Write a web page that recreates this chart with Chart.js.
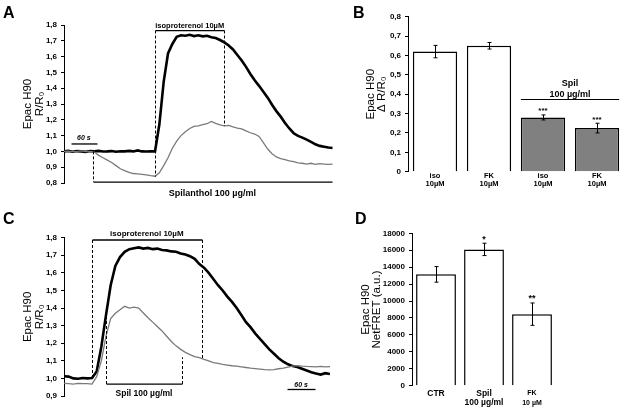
<!DOCTYPE html>
<html><head><meta charset="utf-8">
<script src="https://cdn.jsdelivr.net/npm/chart.js@4"></script>
<style>
html,body{margin:0;padding:0;background:#fff;width:625px;height:413px;overflow:hidden;position:relative}
canvas{position:absolute}
.lbl{position:absolute;font:bold 16px "Liberation Sans",Arial,sans-serif;line-height:16px;color:#000;z-index:5}
</style></head><body>
<canvas id="cA" style="left:0;top:0;width:340px;height:205px" width="340" height="205"></canvas>
<canvas id="cB" style="left:340px;top:0;width:285px;height:205px" width="285" height="205"></canvas>
<canvas id="cC" style="left:0;top:205px;width:340px;height:208px" width="340" height="208"></canvas>
<canvas id="cD" style="left:340px;top:205px;width:285px;height:208px" width="285" height="208"></canvas>
<div class="lbl" style="left:3px;top:5px">A</div>
<div class="lbl" style="left:353px;top:5px">B</div>
<div class="lbl" style="left:3px;top:211px">C</div>
<div class="lbl" style="left:355px;top:211px">D</div>
<script>
// ---------- Panel A data (time in s) ----------
const timeA = [0,10,20,30,40,50,60,70,80,90,100,110,120,130,140,150,160,170,180,190,200,210,220,230,240,250,260,270,280,290,300,310,320,330,340,350,360,370,380,390,400,410,420,430,440,450,460,470,480,490,500,510,520,530,540,550,560,570,580,590,600,610,620];
const isoOnlyA = [1.000,1.003,0.998,1.002,1.000,0.997,1.002,1.000,1.003,0.999,1.000,1.002,0.998,1.001,1.000,1.003,1.000,1.006,1.000,0.999,1.000,1.000,1.170,1.440,1.620,1.680,1.725,1.735,1.732,1.738,1.730,1.735,1.728,1.732,1.722,1.718,1.705,1.690,1.670,1.645,1.610,1.575,1.535,1.490,1.450,1.415,1.378,1.340,1.295,1.255,1.220,1.180,1.145,1.115,1.098,1.087,1.075,1.060,1.045,1.035,1.030,1.025,1.022];
const withSpilA = [1.000,1.002,0.998,1.000,1.003,0.999,1.000,0.996,0.975,0.960,0.945,0.930,0.910,0.890,0.878,0.867,0.860,0.858,0.855,0.852,0.846,0.843,0.865,0.910,0.960,1.020,1.065,1.100,1.125,1.145,1.158,1.162,1.170,1.175,1.190,1.178,1.168,1.162,1.165,1.155,1.148,1.143,1.130,1.118,1.110,1.095,1.055,1.015,0.985,0.965,0.955,0.948,0.940,0.935,0.928,0.925,0.920,0.925,0.918,0.922,0.920,0.918,0.920];
const isoWindowA = [210, 370];
const spilWindowA = [67, 618];
const scaleBarA = [16, 76];
const ticksA = [0.8, 1.8];

// ---------- Panel C data (time in s) ----------
const timeC = [0,10,20,30,40,50,60,70,80,90,100,110,120,130,140,150,160,170,180,190,200,210,220,230,240,250,260,270,280,290,300,310,320,330,340,350,360,370,380,390,400,410,420,430,440,450,460,470,480,490,500,510,520,530,540,550,560,570];
const isoOnlyC = [1.012,1.010,1.000,0.998,1.002,1.000,1.002,1.040,1.180,1.360,1.530,1.640,1.690,1.720,1.735,1.740,1.745,1.738,1.742,1.735,1.738,1.730,1.728,1.722,1.720,1.710,1.705,1.695,1.680,1.650,1.630,1.600,1.565,1.530,1.500,1.465,1.435,1.400,1.360,1.320,1.290,1.255,1.225,1.195,1.165,1.140,1.115,1.095,1.080,1.070,1.065,1.055,1.045,1.035,1.028,1.022,1.030,1.025];
const withSpilC = [0.972,0.970,0.968,0.972,0.970,0.970,0.968,1.010,1.100,1.240,1.340,1.370,1.390,1.410,1.400,1.405,1.400,1.372,1.345,1.320,1.295,1.270,1.240,1.210,1.185,1.165,1.148,1.135,1.124,1.118,1.108,1.100,1.090,1.085,1.080,1.076,1.072,1.070,1.066,1.062,1.058,1.056,1.053,1.050,1.048,1.050,1.055,1.058,1.064,1.070,1.073,1.070,1.068,1.067,1.066,1.068,1.066,1.067];
const isoWindowC = [60, 295];
const spilWindowC = [90, 253];
const scaleBarC = [478, 538];
const ticksC = [0.9, 1.8];

// ---------- Panel B data ----------
const catsB = [['iso','10µM'], ['FK','10µM'], ['iso','10µM'], ['FK','10µM']];
const valuesB = [0.62, 0.65, 0.28, 0.225];
const errorsB = [0.032, 0.017, 0.013, 0.025];
const starsB = ['', '', '***', '***'];
const groupB = ['Spil', '100 µg/ml'];

// ---------- Panel D data ----------
const catsD = ['CTR', ['Spil','100 µg/ml'], ['FK','10 µM']];
const valuesD = [13150, 16100, 8450];
const errorsD = [920, 730, 1320];
const starsD = ['', '*', '**'];

// ---------- common ----------
const FAM = '"Liberation Sans", Arial, sans-serif';
Chart.defaults.font.family = FAM;
Chart.defaults.color = '#000';
Chart.defaults.animation = false;

const commaFmt = v => (Math.abs(v) < 1e-9 ? '0' : v.toFixed(1).replace('.', ','));

const annotPlugin = {
  id: 'annot',
  afterDatasetsDraw(chart, args, opts) {
    const items = opts.items || [];
    const ctx = chart.ctx, xs = chart.scales.x, ys = chart.scales.y;
    const px = v => xs.getPixelForValue(v), py = v => ys.getPixelForValue(v);
    ctx.save();
    items.forEach(it => {
      ctx.strokeStyle = '#000'; ctx.fillStyle = '#000';
      ctx.lineWidth = it.w || 1.2;
      ctx.setLineDash(it.dash || []);
      if (it.t === 'line') {
        ctx.beginPath();
        ctx.moveTo(Math.round(px(it.x0)) + 0.5, py(it.y0));
        ctx.lineTo(Math.round(px(it.x1)) + 0.5, py(it.y1));
        ctx.stroke();
      } else if (it.t === 'text') {
        ctx.font = it.font; ctx.textAlign = 'center'; ctx.textBaseline = 'alphabetic';
        ctx.fillText(it.s, px(it.x), py(it.y) + (it.dy || 0));
      }
    });
    ctx.restore();
  }
};

const barExtras = {
  id: 'barExtras',
  afterDatasetsDraw(chart, args, opts) {
    if (!opts.err) return;
    const ctx = chart.ctx, meta = chart.getDatasetMeta(0), ys = chart.scales.y;
    const vals = chart.data.datasets[0].data;
    ctx.save(); ctx.strokeStyle = '#000'; ctx.fillStyle = '#000'; ctx.lineWidth = 1;
    meta.data.forEach((bar, i) => {
      const e = opts.err[i], v = vals[i];
      const x = Math.round(bar.x) + 0.5;
      const yT = ys.getPixelForValue(v + e), yB = ys.getPixelForValue(v - e);
      ctx.beginPath();
      ctx.moveTo(x, yT); ctx.lineTo(x, yB);
      ctx.moveTo(x - 2, yT); ctx.lineTo(x + 2, yT);
      ctx.moveTo(x - 2, yB); ctx.lineTo(x + 2, yB);
      ctx.stroke();
      if (opts.stars && opts.stars[i]) {
        ctx.font = opts.starFont; ctx.textAlign = 'center'; ctx.textBaseline = 'alphabetic';
        ctx.fillText(opts.stars[i], bar.x, yT - 1.5);
      }
    });
    if (opts.group) {
      const g = opts.group;
      const b0 = meta.data[g.from], b1 = meta.data[g.to];
      const x0 = b0.x - b0.width / 2, x1 = b1.x + b1.width / 2;
      const y = Math.round(ys.getPixelForValue(g.y)) + 0.5;
      ctx.lineWidth = 1.2;
      ctx.beginPath(); ctx.moveTo(x0, y); ctx.lineTo(x1, y); ctx.stroke();
      ctx.font = g.font; ctx.textAlign = 'center';
      ctx.fillText(g.lines[0], (x0 + x1) / 2, y - 14);
      ctx.fillText(g.lines[1], (x0 + x1) / 2, y - 3);
    }
    ctx.restore();
  }
};

function yAxis(min, max, step, width, titleLines, titlePad, fmt) {
  return {
    type: 'linear', min: min, max: max,
    afterFit: s => { s.width = width; },
    border: { display: true, color: '#000', width: 1 },
    grid: { display: true, drawOnChartArea: false, drawTicks: true, tickLength: 3, color: '#000', lineWidth: 1 },
    ticks: { stepSize: step, padding: 4, font: { size: 8, weight: 'bold' }, color: '#000', callback: fmt },
    title: { display: true, text: titleLines, color: '#000', font: { size: 11.5, lineHeight: 1.0 }, padding: { top: titlePad, bottom: 0 } }
  };
}

function traceChart(id, time, iso, spil, ymin, ymax, width, pad, annItems) {
  return new Chart(document.getElementById(id), {
    type: 'line',
    data: {
      datasets: [
        { data: time.map((t, i) => ({ x: t, y: spil[i] })), borderColor: '#7a7a7a', borderWidth: 1.3, pointRadius: 0, tension: 0 },
        { data: time.map((t, i) => ({ x: t, y: iso[i] })), borderColor: '#000', borderWidth: 2.6, pointRadius: 0, tension: 0 }
      ]
    },
    options: {
      responsive: false, animation: false,
      layout: { padding: pad },
      plugins: { legend: { display: false }, tooltip: { enabled: false }, annot: { items: annItems } },
      scales: {
        x: { type: 'linear', display: false, min: time[0], max: time[time.length - 1] },
        y: yAxis(ymin, ymax, 0.1, width, ['Epac H90', 'R/R₀'], 22.5, commaFmt)
      }
    },
    plugins: [annotPlugin]
  });
}

// ---- Panel A ----
traceChart('cA', timeA, isoOnlyA, withSpilA, ticksA[0], ticksA[1], 64,
  { top: 25, bottom: 22, left: 0, right: 7.3 },
  [
    { t: 'line', x0: isoWindowA[0], y0: 1.765, x1: isoWindowA[1], y1: 1.765, w: 1.3 },
    { t: 'text', x: (isoWindowA[0] + isoWindowA[1]) / 2, y: 1.765, dy: -2.5, s: 'isoproterenol 10µM', font: 'bold 7.5px ' + FAM },
    { t: 'line', x0: isoWindowA[0], y0: 1.765, x1: isoWindowA[0], y1: 0.84, dash: [3, 2], w: 1 },
    { t: 'line', x0: isoWindowA[1], y0: 1.765, x1: isoWindowA[1], y1: 1.16, dash: [3, 2], w: 1 },
    { t: 'line', x0: spilWindowA[0], y0: 1.0, x1: spilWindowA[0], y1: 0.806, dash: [3, 2], w: 1 },
    { t: 'line', x0: spilWindowA[0], y0: 0.806, x1: spilWindowA[1], y1: 0.806, w: 1.3 },
    { t: 'text', x: (spilWindowA[0] + spilWindowA[1]) / 2, y: 0.806, dy: 14, s: 'Spilanthol 100 µg/ml', font: 'bold 9px ' + FAM },
    { t: 'line', x0: scaleBarA[0], y0: 1.047, x1: scaleBarA[1], y1: 1.047, w: 1.3 },
    { t: 'text', x: (scaleBarA[0] + scaleBarA[1]) / 2, y: 1.047, dy: -3.5, s: '60 s', font: 'italic bold 7px ' + FAM }
  ]);

// ---- Panel C ----
traceChart('cC', timeC, isoOnlyC, withSpilC, ticksC[0], ticksC[1], 64,
  { top: 32.7, bottom: 17, left: 0, right: 10 },
  [
    { t: 'line', x0: isoWindowC[0], y0: 1.787, x1: isoWindowC[1], y1: 1.787, w: 1.3 },
    { t: 'text', x: (isoWindowC[0] + isoWindowC[1]) / 2, y: 1.787, dy: -3.5, s: 'isoproterenol 10µM', font: 'bold 8px ' + FAM },
    { t: 'line', x0: isoWindowC[0], y0: 1.787, x1: isoWindowC[0], y1: 1.01, dash: [3, 2], w: 1 },
    { t: 'line', x0: isoWindowC[1], y0: 1.787, x1: isoWindowC[1], y1: 1.11, dash: [3, 2], w: 1 },
    { t: 'line', x0: spilWindowC[0], y0: 0.968, x1: spilWindowC[0], y1: 1.37, dash: [3, 2], w: 1 },
    { t: 'line', x0: spilWindowC[1], y0: 0.968, x1: spilWindowC[1], y1: 1.12, dash: [3, 2], w: 1 },
    { t: 'line', x0: spilWindowC[0], y0: 0.968, x1: spilWindowC[1], y1: 0.968, w: 1.3 },
    { t: 'text', x: (spilWindowC[0] + spilWindowC[1]) / 2, y: 0.968, dy: 12, s: 'Spil 100 µg/ml', font: 'bold 8.5px ' + FAM },
    { t: 'line', x0: scaleBarC[0], y0: 0.937, x1: scaleBarC[1], y1: 0.937, w: 1.3 },
    { t: 'text', x: (scaleBarC[0] + scaleBarC[1]) / 2, y: 0.937, dy: -2.5, s: '60 s', font: 'italic bold 7px ' + FAM }
  ]);

// ---- Panel B ----
new Chart(document.getElementById('cB'), {
  type: 'bar',
  data: {
    labels: catsB,
    datasets: [{ data: valuesB, backgroundColor: ['#ffffff', '#ffffff', '#808080', '#808080'], borderColor: '#000', borderWidth: 1.5, barPercentage: 0.82, categoryPercentage: 1 }]
  },
  options: {
    responsive: false, animation: false,
    layout: { padding: { top: 16.7, bottom: 5.3, left: 0, right: 1 } },
    plugins: {
      legend: { display: false }, tooltip: { enabled: false },
      barExtras: { err: errorsB, stars: starsB, starFont: 'bold 8px ' + FAM,
        group: { from: 2, to: 3, y: 0.373, lines: groupB, font: 'bold 9px ' + FAM } }
    },
    scales: {
      x: {
        afterFit: s => { s.height = 28; },
        grid: { display: false, drawTicks: false, tickLength: 0 }, border: { display: false },
        ticks: { padding: 0, font: { size: 7.5, weight: 'bold', lineHeight: 1.13 }, color: '#000', maxRotation: 0, autoSkip: false }
      },
      y: yAxis(0, 0.8, 0.1, 68, ['Epac H90', 'Δ R/R₀'], 25, commaFmt)
    }
  },
  plugins: [barExtras]
});

// ---- Panel D ----
new Chart(document.getElementById('cD'), {
  type: 'bar',
  data: {
    labels: catsD,
    datasets: [{ data: valuesD, backgroundColor: '#ffffff', borderColor: '#000', borderWidth: 1.5, barPercentage: 0.83, categoryPercentage: 1 }]
  },
  options: {
    responsive: false, animation: false,
    layout: { padding: { top: 28.3, bottom: 5.3, left: 0, right: 69 } },
    plugins: {
      legend: { display: false }, tooltip: { enabled: false },
      barExtras: { err: errorsD, stars: starsD, starFont: 'bold 9px ' + FAM }
    },
    scales: {
      x: {
        afterFit: s => { s.height = 22; },
        grid: { display: false, drawTicks: false, tickLength: 0 }, border: { display: false },
        ticks: { padding: 3, color: '#000', maxRotation: 0, autoSkip: false,
          font: c => (c.index === 2 ? { size: 7, weight: 'bold', lineHeight: 1.35 } : { size: 8.5, weight: 'bold', lineHeight: 1.1 }) }
      },
      y: yAxis(0, 18000, 2000, 72, ['Epac H90', 'NetFRET (a.u.)'], 20, v => String(v))
    }
  },
  plugins: [barExtras]
});
</script>
</body></html>
